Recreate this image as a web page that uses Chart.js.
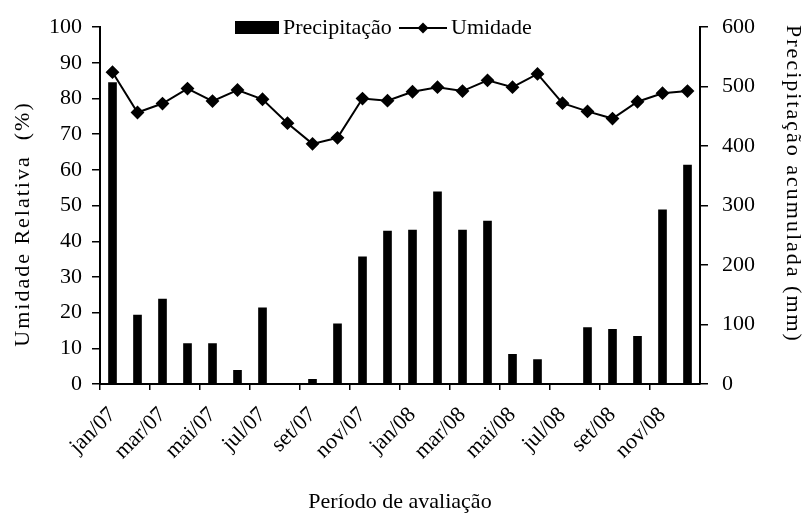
<!DOCTYPE html>
<html lang="pt">
<head>
  <meta charset="UTF-8">
  <title>Umidade relativa e precipitação</title>
  <script src="https://cdn.jsdelivr.net/npm/chart.js"></script>
  <style>
    body { margin: 0; background: #fff; }
    #wrap { width: 808px; height: 516px; }
  </style>
</head>
<body>
  <div id="wrap"><canvas id="grafico" width="808" height="516"></canvas></div>
  <script>
    const meses = ['jan/07', 'fev/07', 'mar/07', 'abr/07', 'mai/07', 'jun/07', 'jul/07', 'ago/07',
                   'set/07', 'out/07', 'nov/07', 'dez/07', 'jan/08', 'fev/08', 'mar/08', 'abr/08',
                   'mai/08', 'jun/08', 'jul/08', 'ago/08', 'set/08', 'out/08', 'nov/08', 'dez/08'];
    const umidade = [87.4, 76.1, 78.6, 82.8, 79.3, 82.4, 79.8, 73.1, 67.3, 69.0, 80.0, 79.4,
                     81.9, 83.2, 82.1, 85.1, 83.2, 86.9, 78.7, 76.4, 74.4, 79.1, 81.5, 82.1];
    const precipitacao = [507, 116, 143, 68, 68, 23, 128, 0, 8, 101, 214, 257,
                          259, 323, 259, 274, 50, 41, 0, 95, 92, 80, 293, 368];
    const ticksUmidade = { min: 0, max: 100, step: 10 };
    const ticksPrecip = { min: 0, max: 600, step: 100 };

    const FONTE = "'Liberation Serif', 'Times New Roman', serif";
    Chart.defaults.font.family = FONTE;
    Chart.defaults.color = '#000';

    function textoVertical(ctx, texto, x, y, angulo) {
      ctx.save();
      ctx.translate(x, y);
      ctx.rotate(angulo);
      ctx.font = '22px ' + FONTE;
      if ('letterSpacing' in ctx) ctx.letterSpacing = '2px';
      ctx.textAlign = 'center';
      ctx.textBaseline = 'middle';
      ctx.fillText(texto, 0, 0);
      ctx.restore();
    }

    // legenda e títulos dos eixos y desenhados à mão (posições como no original)
    const extrasPlugin = {
      id: 'extras',
      afterDraw(chart) {
        const ctx = chart.ctx;
        const y = 28;
        ctx.save();
        ctx.fillStyle = '#000';
        ctx.strokeStyle = '#000';
        ctx.fillRect(235, 21, 44, 13);
        ctx.font = '22px ' + FONTE;
        ctx.textBaseline = 'middle';
        ctx.textAlign = 'left';
        ctx.fillText('Precipitação', 283, y);
        ctx.lineWidth = 2;
        ctx.beginPath();
        ctx.moveTo(399, y);
        ctx.lineTo(447, y);
        ctx.stroke();
        ctx.beginPath();
        ctx.moveTo(423, y - 5.5);
        ctx.lineTo(428.5, y);
        ctx.lineTo(423, y + 5.5);
        ctx.lineTo(417.5, y);
        ctx.closePath();
        ctx.fill();
        ctx.fillText('Umidade', 451, y);
        ctx.restore();

        textoVertical(ctx, 'Umidade Relativa  (%)', 23, 224, -Math.PI / 2);
        textoVertical(ctx, 'Precipitação acumulada (mm)', 793, 184, Math.PI / 2);
      }
    };

    new Chart(document.getElementById('grafico'), {
      type: 'bar',
      data: {
        labels: meses,
        datasets: [
          {
            type: 'line',
            label: 'Umidade',
            data: umidade,
            yAxisID: 'y',
            borderColor: '#000',
            backgroundColor: '#000',
            borderWidth: 2,
            pointStyle: 'rectRot',
            pointRadius: 5.5,
            tension: 0,
            order: 0
          },
          {
            label: 'Precipitação',
            data: precipitacao,
            yAxisID: 'y1',
            backgroundColor: '#000',
            barThickness: 8,
            order: 1
          }
        ]
      },
      options: {
        responsive: false,
        animation: false,
        layout: { padding: { top: 24, left: 0, right: 0, bottom: 0 } },
        plugins: { legend: { display: false }, tooltip: { enabled: false } },
        scales: {
          x: {
            offset: true,
            grid: {
              offset: true,
              drawOnChartArea: false,
              tickLength: 6,
              lineWidth: 1.5,
              color: c => (c.index % 2 === 0 ? '#000' : 'rgba(0,0,0,0)')
            },
            border: { color: '#000', width: 2 },
            ticks: {
              autoSkip: false,
              minRotation: 45,
              maxRotation: 45,
              padding: 12,
              font: { size: 22 },
              callback: (v, i) => (i % 2 === 0 ? meses[i] : '')
            },
            title: { display: true, text: 'Período de avaliação', font: { size: 22 }, padding: { top: 0, bottom: 1 } },
            afterFit: s => { s.height = 132; }
          },
          y: {
            position: 'left',
            min: ticksUmidade.min,
            max: ticksUmidade.max,
            grid: { drawOnChartArea: false, tickLength: 8, color: '#000', lineWidth: 1.5 },
            border: { color: '#000', width: 2 },
            ticks: { stepSize: ticksUmidade.step, padding: 10, font: { size: 22 } },
            afterFit: s => { s.width = 100; }
          },
          y1: {
            position: 'right',
            min: ticksPrecip.min,
            max: ticksPrecip.max,
            grid: { drawOnChartArea: false, tickLength: 8, color: '#000', lineWidth: 1.5 },
            border: { color: '#000', width: 2 },
            ticks: { stepSize: ticksPrecip.step, padding: 14, font: { size: 22 } },
            afterFit: s => { s.width = 108; }
          }
        }
      },
      plugins: [extrasPlugin]
    });
  </script>
</body>
</html>
